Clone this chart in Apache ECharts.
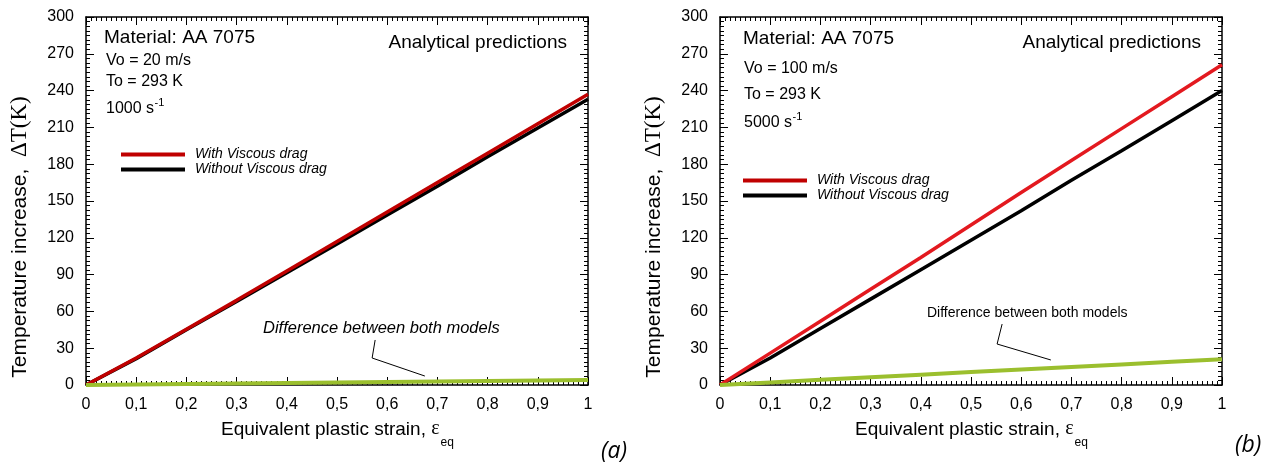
<!DOCTYPE html>
<html>
<head>
<meta charset="utf-8">
<script src="https://cdn.jsdelivr.net/npm/echarts@6/dist/echarts.min.js"></script>
<style>
  html, body { margin: 0; padding: 0; background: #fff; }
  #chart { width: 1273px; height: 466px; }
</style>
</head>
<body>
<div id="chart"></div>
<script>
// Equivalent plastic strain sampled along each curve
const strain = [0, 0.1, 0.2, 0.3, 0.4, 0.5, 0.6, 0.7, 0.8, 0.9, 1.0];

// (a) Vo = 20 m/s, 1000 s^-1 — temperature increase ΔT (K)
const withDragA    = [0, 22, 45.5, 69, 93, 117, 141, 165, 189, 213, 237];
const withoutDragA = [0, 21.5, 45, 68, 91.5, 115, 138.5, 162, 186, 209.5, 233];
const diffA        = [0, 0.4, 0.8, 1.2, 1.6, 2.0, 2.4, 2.8, 3.2, 3.6, 4.0];

// (b) Vo = 100 m/s, 5000 s^-1
const withDragB    = [0, 26, 52, 78, 104, 130.5, 157, 183, 209, 235, 261];
const withoutDragB = [0, 22, 46, 70, 94, 118, 142, 167, 191, 215.5, 240];
const diffB        = [0, 2.1, 4.2, 6.3, 8.4, 10.5, 12.6, 14.7, 16.8, 18.9, 21];

// Leader lines for the "Difference between both models" callouts, in data units
const leaderA = [[0.576, 36.7], [0.570, 22], [0.675, 7.3]];
const leaderB = [[0.562, 49.7], [0.552, 33.4], [0.659, 20.4]];

const xTicks = { min: 0, max: 1, interval: 0.1 };
const yTicks = { min: 0, max: 300, interval: 30 };

const NAME_WITH = 'With Viscous drag';
const NAME_WITHOUT = 'Without Viscous drag';

const SANS = '"Liberation Sans", Arial, sans-serif';
const SERIF = '"Liberation Serif", "Times New Roman", serif';

const pairs = (xs, ys) => xs.map((x, i) => [x, ys[i]]);

const chart = echarts.init(document.getElementById('chart'), null, { renderer: 'canvas' });

const gridBoxes = [
  { left: 86, top: 17, width: 502, height: 368 },
  { left: 720, top: 17, width: 502, height: 368 }
];

function xAxes(gi) {
  const common = {
    type: 'value', gridIndex: gi, min: xTicks.min, max: xTicks.max, interval: xTicks.interval,
    axisLine: { show: true, onZero: false, lineStyle: { color: '#000', width: 1.5 } },
    axisTick: { show: true, inside: true, length: 8, lineStyle: { color: '#000', width: 1 } },
    minorTick: { show: true, splitNumber: 10, length: 4, lineStyle: { color: '#000', width: 1 } },
    splitLine: { show: false }, minorSplitLine: { show: false }
  };
  return [
    Object.assign({}, common, {
      position: 'bottom',
      axisLabel: {
        show: true, margin: 12, color: '#000', fontSize: 16, fontFamily: SANS,
        formatter: v => String(Math.round(v * 10) / 10).replace('.', ',')
      }
    }),
    Object.assign({}, common, { position: 'top', axisLabel: { show: false } })
  ];
}

function yAxes(gi) {
  const common = {
    type: 'value', gridIndex: gi, min: yTicks.min, max: yTicks.max, interval: yTicks.interval,
    axisLine: { show: true, onZero: false, lineStyle: { color: '#000', width: 1.5 } },
    axisTick: { show: true, inside: true, length: 8, lineStyle: { color: '#000', width: 1 } },
    minorTick: { show: true, splitNumber: 8, length: 4, lineStyle: { color: '#000', width: 1 } },
    splitLine: { show: false }, minorSplitLine: { show: false }
  };
  return [
    Object.assign({}, common, {
      position: 'left',
      axisLabel: { show: true, margin: 12, color: '#000', fontSize: 16, fontFamily: SANS }
    }),
    Object.assign({}, common, { position: 'right', axisLabel: { show: false } })
  ];
}

function curve(name, data, color, width, xi, yi, z) {
  return {
    name, type: 'line', xAxisIndex: xi, yAxisIndex: yi, data,
    showSymbol: false, symbol: 'none', smooth: false, clip: false, z,
    lineStyle: { color, width, cap: 'butt' }, itemStyle: { color },
    emphasis: { disabled: true }, silent: true
  };
}

function leader(data, xi, yi) {
  return {
    name: 'leader', type: 'line', xAxisIndex: xi, yAxisIndex: yi, data,
    symbol: 'none', z: 6, silent: true, clip: false,
    lineStyle: { color: '#000', width: 1 }, emphasis: { disabled: true }
  };
}

const GREEN = '#9bbf2e';

const legendCommon = {
  orient: 'vertical', icon: 'rect', itemWidth: 64, itemHeight: 4, itemGap: 0,
  selectedMode: false, data: [NAME_WITH, NAME_WITHOUT],
  textStyle: { fontStyle: 'italic', fontSize: 14, fontFamily: SANS, color: '#000', lineHeight: 15, padding: [0, 0, 0, 5] }
};

// Text measuring so superscripts/subscripts sit right after their base text
const mctx = document.createElement('canvas').getContext('2d');
function textWidth(font, s) { mctx.font = font; return mctx.measureText(s).width; }

function rateLabel(x, y, base) {
  const f = '16px ' + SANS;
  const w = textWidth(f, base);
  return {
    type: 'group', children: [
      { type: 'text', x, y, style: { text: base, font: f, fill: '#000', verticalAlign: 'middle' } },
      { type: 'text', x: x + w + 0.5, y: y - 6, style: { text: '-1', font: '11px ' + SANS, fill: '#000', verticalAlign: 'middle' } }
    ]
  };
}

function xTitle(cx, y) {
  const f = '19px ' + SANS;
  const main = 'Equivalent plastic strain, ';
  const eps = 'ε';
  const ef = '20px ' + SERIF;
  const sf = '12px ' + SANS;
  const w1 = textWidth(f, main), w2 = textWidth(ef, eps), w3 = textWidth(sf, 'eq');
  const x0 = cx - (w1 + w2 + w3) / 2;
  return {
    type: 'group', children: [
      { type: 'text', x: x0, y, style: { text: main, font: f, fill: '#000', verticalAlign: 'middle' } },
      { type: 'text', x: x0 + w1, y: y - 1, style: { text: eps, font: ef, fill: '#000', verticalAlign: 'middle' } },
      { type: 'text', x: x0 + w1 + w2 + 1, y: y + 13, style: { text: 'eq', font: sf, fill: '#000', verticalAlign: 'middle' } }
    ]
  };
}

function yTitle(x, cy) {
  return {
    type: 'text', x, y: cy, rotation: Math.PI / 2,
    style: {
      text: '{s|Temperature increase,  }{m|ΔT(K)}',
      fill: '#000', align: 'center', verticalAlign: 'middle',
      rich: {
        s: { font: '21px ' + SANS, fill: '#000' },
        m: { font: '23px ' + SERIF, fill: '#000' }
      }
    }
  };
}

function plainText(x, y, text, font, align) {
  return { type: 'text', x, y, style: { text, font, fill: '#000', align: align || 'left', verticalAlign: 'middle' } };
}

const option = {
  backgroundColor: '#fff',
  animation: false,
  grid: gridBoxes.map(g => Object.assign({ containLabel: false }, g)),
  xAxis: [...xAxes(0), ...xAxes(1)],
  yAxis: [...yAxes(0), ...yAxes(1)],
  legend: [
    Object.assign({}, legendCommon, { left: 116, top: 142 }),
    Object.assign({}, legendCommon, { left: 738, top: 168 })
  ],
  series: [
    curve(NAME_WITHOUT, pairs(strain, withoutDragA), '#000', 3.5, 0, 0, 3),
    curve(NAME_WITH, pairs(strain, withDragA), '#c00000', 3.5, 0, 0, 4),
    curve('Difference', pairs(strain, diffA), GREEN, 4, 0, 0, 5),
    leader(leaderA, 0, 0),
    curve(NAME_WITHOUT, pairs(strain, withoutDragB), '#000', 3.5, 2, 2, 3),
    curve(NAME_WITH, pairs(strain, withDragB), '#e3191f', 3.5, 2, 2, 4),
    curve('Difference', pairs(strain, diffB), GREEN, 4, 2, 2, 5),
    leader(leaderB, 2, 2)
  ],
  graphic: [
    // Panel (a) annotations
    plainText(104, 38, 'Material: AA 7075', '19px ' + SANS),
    plainText(106, 61, 'Vo = 20 m/s', '16px ' + SANS),
    plainText(106, 82, 'To = 293 K', '16px ' + SANS),
    rateLabel(106, 109, '1000 s'),
    plainText(567, 43, 'Analytical predictions', '19px ' + SANS, 'right'),
    plainText(263, 328, 'Difference between both models', 'italic 16.5px ' + SANS),
    yTitle(20, 237),
    xTitle(337, 430),
    plainText(601, 451, '(a)', 'italic 23px "Open Sans", ' + SANS),
    // Panel (b) annotations
    plainText(743, 39, 'Material: AA 7075', '19px ' + SANS),
    plainText(744, 69, 'Vo = 100 m/s', '16px ' + SANS),
    plainText(744, 95, 'To = 293 K', '16px ' + SANS),
    rateLabel(744, 123, '5000 s'),
    plainText(1201, 43, 'Analytical predictions', '19px ' + SANS, 'right'),
    plainText(927, 313, 'Difference between both models', '14px ' + SANS),
    yTitle(654, 237),
    xTitle(971, 430),
    plainText(1235, 445, '(b)', 'italic 23px "Open Sans", ' + SANS)
  ]
};

chart.setOption(option);
</script>
</body>
</html>
